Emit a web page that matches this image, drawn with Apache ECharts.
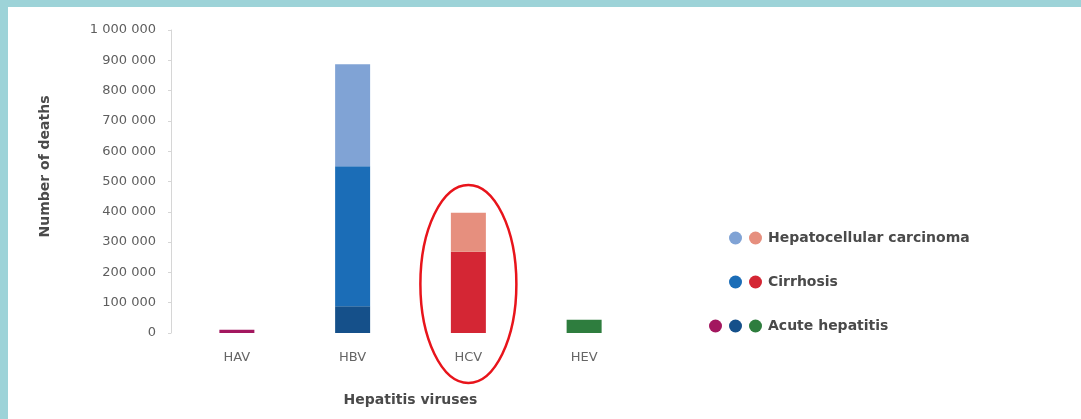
<!DOCTYPE html>
<html><head><meta charset="utf-8">
<script src="https://cdn.jsdelivr.net/npm/echarts@6/dist/echarts.min.js"></script>
<style>
html,body{margin:0;padding:0;background:#fff;}
#wrap{position:relative;width:1081px;height:419px;overflow:hidden;background:#fff;}
#bt{position:absolute;left:0;top:0;width:1081px;height:7px;background:#9DD3D8;}
#bl{position:absolute;left:0;top:0;width:8px;height:419px;background:#9DD3D8;}
#chart{position:absolute;left:0;top:0;width:1081px;height:419px;}
</style></head><body>
<div id="wrap"><div id="bt"></div><div id="bl"></div><div id="chart"></div></div>
<script>
// ---- data ----
const categories = ['HAV', 'HBV', 'HCV', 'HEV'];
const acuteHepatitis = [11000, 88000, 0, 44000];
const cirrhosis = [0, 462000, 268000, 0];
const hepatocellularCarcinoma = [0, 337000, 129000, 0];
const yMin = 0, yMax = 1000000, yInterval = 100000;
const causeLabels = ['Acute hepatitis', 'Cirrhosis', 'Hepatocellular carcinoma'];
const causeValues = [acuteHepatitis, cirrhosis, hepatocellularCarcinoma];

// ---- styling ----
const colors = {
  'Acute hepatitis': {HAV: '#A3175F', HBV: '#15508A', HEV: '#2E7D3E'},
  'Cirrhosis': {HBV: '#1B6DB7', HCV: '#D42634'},
  'Hepatocellular carcinoma': {HBV: '#80A3D5', HCV: '#E68F7E'}
};
const FONT = 'DejaVu Sans';

const series = [];
const legendRows = {};
causeLabels.forEach((cause, ci) => {
  legendRows[cause] = [];
  categories.forEach((cat, vi) => {
    const v = causeValues[ci][vi];
    if (!v) return;
    const id = cause + '|' + cat;
    legendRows[cause].push(id);
    series.push({
      type: 'bar', name: id, stack: 'deaths', barWidth: 35,
      itemStyle: {color: colors[cause][cat]},
      data: categories.map((c, i) => i === vi ? v : '-')
    });
  });
});

function makeLegend(cause, left, top) {
  const ids = legendRows[cause];
  return {
    show: true, orient: 'horizontal', left: left, top: top,
    data: ids, icon: 'circle', itemWidth: 13, itemHeight: 13, itemGap: 7,
    selectedMode: false,
    formatter: name => name === ids[ids.length - 1] ? cause : '',
    textStyle: {fontFamily: FONT, fontWeight: 'bold', fontSize: 14, color: '#4a4a4a', padding: [0, 0, 0, 1]}
  };
}

const fmt = v => String(v).replace(/\B(?=(\d{3})+(?!\d))/g, ' ');

const chart = echarts.init(document.getElementById('chart'), null, {renderer: 'canvas'});
chart.setOption({
  backgroundColor: 'transparent',
  animation: false,
  grid: {left: 179, right: 439, top: 30, bottom: 86, containLabel: false},
  xAxis: {
    type: 'category', data: categories,
    axisLine: {show: false}, axisTick: {show: false},
    axisLabel: {color: '#666', fontSize: 13, fontFamily: FONT, margin: 18},
    name: 'Hepatitis viruses', nameLocation: 'middle', nameGap: 60,
    nameTextStyle: {fontFamily: FONT, fontWeight: 'bold', fontSize: 14, color: '#4a4a4a'}
  },
  yAxis: {
    type: 'value', min: yMin, max: yMax, interval: yInterval, offset: 8,
    axisLine: {show: true, lineStyle: {color: '#d6d6d6', width: 1}},
    axisTick: {show: true, length: 3, lineStyle: {color: '#d6d6d6'}},
    splitLine: {show: false},
    axisLabel: {color: '#5e5e5e', fontSize: 13, fontFamily: FONT, margin: 15, formatter: fmt},
    name: 'Number of deaths', nameLocation: 'middle', nameGap: 119,
    nameTextStyle: {fontFamily: FONT, fontWeight: 'bold', fontSize: 14, color: '#4a4a4a', padding: [0, 0, 0, 30]}
  },
  legend: [
    makeLegend('Hepatocellular carcinoma', 724, 226),
    makeLegend('Cirrhosis', 724, 270),
    makeLegend('Acute hepatitis', 704, 314)
  ],
  series: series
});

const cx = chart.convertToPixel({xAxisIndex: 0}, 'HCV');
chart.setOption({
  graphic: [{
    type: 'ellipse', z: 100,
    shape: {cx: cx, cy: 284, rx: 48, ry: 99},
    style: {fill: 'none', stroke: '#E8141B', lineWidth: 2.5}
  }]
});
</script>
</body></html>
